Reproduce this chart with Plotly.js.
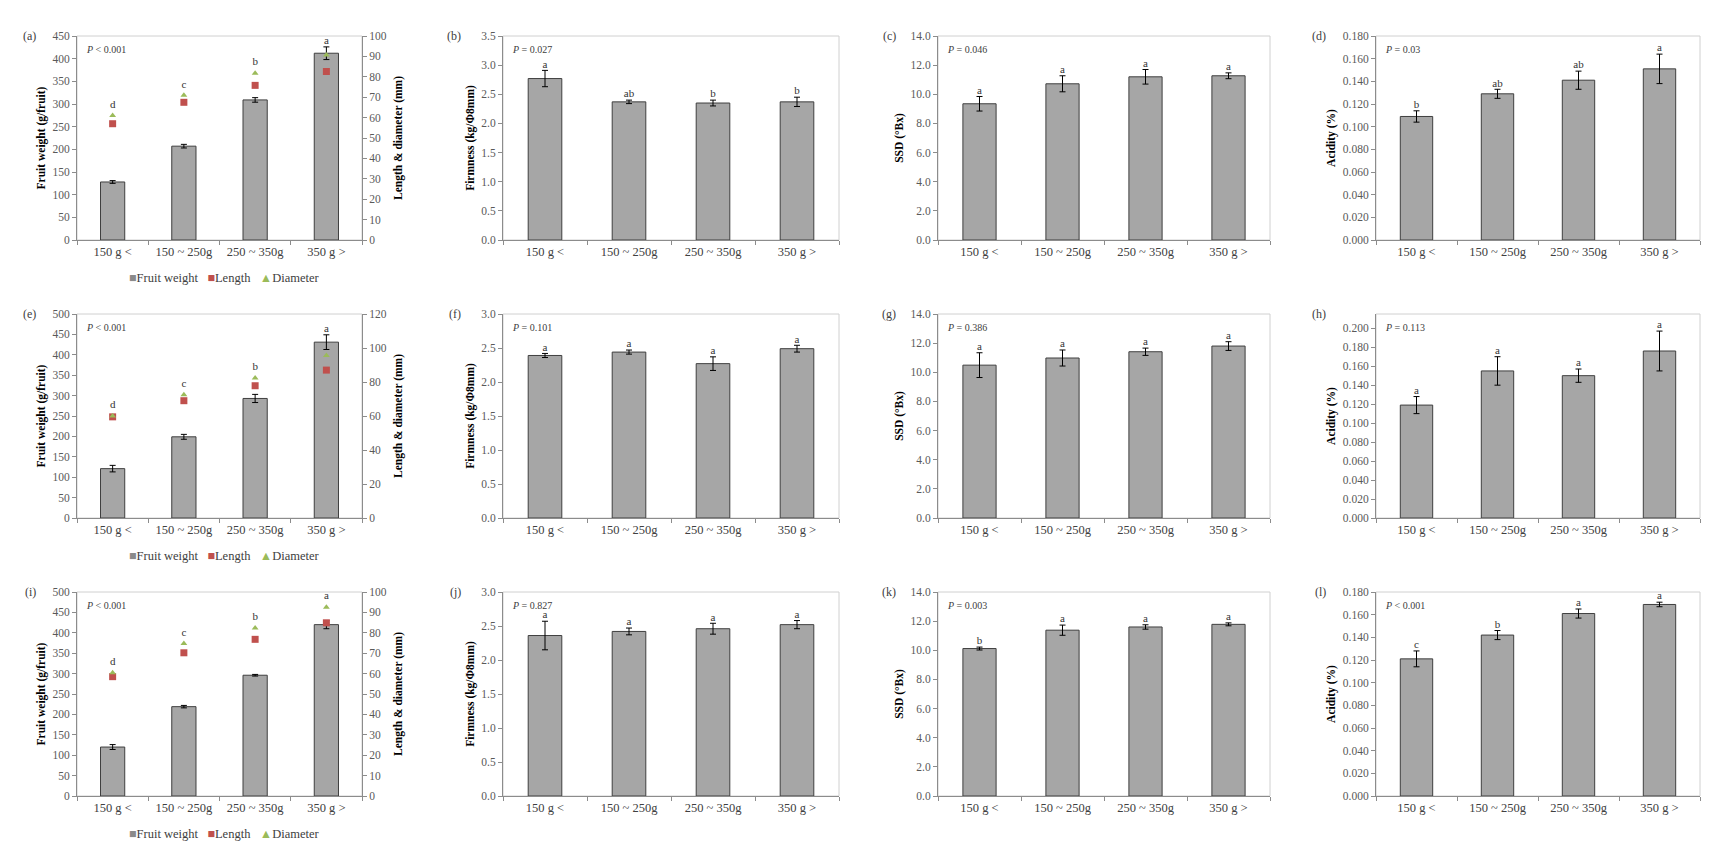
<!DOCTYPE html>
<html><head><meta charset="utf-8">
<script src="https://cdn.plot.ly/plotly-3.0.1.min.js"></script>
<style>html,body{margin:0;padding:0;background:#fff}#chart{width:1736px;height:846px}</style>
</head><body><div id="chart"></div>
<script>
const categories = ['150 g <', '150 ~ 250g', '250 ~ 350g', '350 g >'];

// Row 1
const weightA = [128, 207, 309, 412];
const weightErrA = [3, 4, 5, 14];
const lengthA = [57.0, 67.5, 75.8, 82.6];
const diameterA = [61.0, 70.9, 81.8, 90.7];
const lettersA = ['d', 'c', 'b', 'a'];
const firmB = [2.77, 2.37, 2.35, 2.37];
const firmErrB = [0.14, 0.03, 0.05, 0.08];
const lettersB = ['a', 'ab', 'b', 'b'];
const ssdC = [9.35, 10.72, 11.20, 11.27];
const ssdErrC = [0.50, 0.55, 0.50, 0.20];
const lettersC = ['a', 'a', 'a', 'a'];
const acidD = [0.109, 0.129, 0.141, 0.151];
const acidErrD = [0.005, 0.004, 0.008, 0.013];
const lettersD = ['b', 'ab', 'ab', 'a'];

// Row 2
const weightE = [121, 199, 293, 431];
const weightErrE = [8, 6, 10, 18];
const lengthE = [59.5, 69.0, 77.8, 87.0];
const diameterE = [60.0, 72.5, 82.4, 95.6];
const lettersE = ['d', 'c', 'b', 'a'];
const firmF = [2.39, 2.44, 2.27, 2.49];
const firmErrF = [0.03, 0.03, 0.10, 0.05];
const lettersF = ['a', 'a', 'a', 'a'];
const ssdG = [10.49, 10.98, 11.41, 11.80];
const ssdErrG = [0.85, 0.55, 0.25, 0.30];
const lettersG = ['a', 'a', 'a', 'a'];
const acidH = [0.119, 0.155, 0.150, 0.176];
const acidErrH = [0.009, 0.015, 0.007, 0.021];
const lettersH = ['a', 'a', 'a', 'a'];

// Row 3
const weightI = [120, 219, 296, 420];
const weightErrI = [6, 3, 2, 10];
const lengthI = [58.5, 70.2, 76.8, 84.9];
const diameterI = [60.4, 74.7, 82.4, 92.5];
const lettersI = ['d', 'c', 'b', 'a'];
const firmJ = [2.36, 2.42, 2.46, 2.52];
const firmErrJ = [0.21, 0.05, 0.08, 0.06];
const lettersJ = ['a', 'a', 'a', 'a'];
const ssdK = [10.12, 11.38, 11.60, 11.78];
const ssdErrK = [0.10, 0.35, 0.15, 0.10];
const lettersK = ['b', 'a', 'a', 'a'];
const acidL = [0.121, 0.142, 0.161, 0.169];
const acidErrL = [0.007, 0.004, 0.004, 0.002];
const lettersL = ['c', 'b', 'a', 'a'];

const panelLabels = ['(a)','(b)','(c)','(d)','(e)','(f)','(g)','(h)','(i)','(j)','(k)','(l)'];
const pTexts = ['< 0.001','= 0.027','= 0.046','= 0.03','< 0.001','= 0.101','= 0.386','= 0.113','< 0.001','= 0.827','= 0.003','< 0.001'];
const seriesNames = ['Fruit weight', 'Length', 'Diameter'];

const W = 1736, H = 846;
const px = v => v / W;
const py = v => 1 - v / H;
const colPx = [[77, 362], [503, 839], [938, 1270], [1376, 1700]];
const rowPx = [[36, 240], [314, 518], [592, 796]];
const labelRight = [38, 463, 898, 1328];

const FONT = 'Liberation Serif, Times New Roman, serif';
const BAR_FILL = '#A6A6A6', BAR_LINE = '#3f3f3f';
const LEN_COLOR = '#C0504D', DIA_COLOR = '#9BBB59';

const panels = [
  {type:'w', v:weightA, e:weightErrA, len:lengthA, dia:diameterA, L:lettersA, r:[0,450], dt:50, r2:[0,100], dt2:10},
  {type:'f', v:firmB, e:firmErrB, L:lettersB, r:[0,3.5], dt:0.5, fmt:'.1f'},
  {type:'s', v:ssdC, e:ssdErrC, L:lettersC, r:[0,14], dt:2, fmt:'.1f'},
  {type:'a', v:acidD, e:acidErrD, L:lettersD, r:[0,0.18], dt:0.02, fmt:'.3f'},
  {type:'w', v:weightE, e:weightErrE, len:lengthE, dia:diameterE, L:lettersE, r:[0,500], dt:50, r2:[0,120], dt2:20},
  {type:'f', v:firmF, e:firmErrF, L:lettersF, r:[0,3.0], dt:0.5, fmt:'.1f'},
  {type:'s', v:ssdG, e:ssdErrG, L:lettersG, r:[0,14], dt:2, fmt:'.1f'},
  {type:'a', v:acidH, e:acidErrH, L:lettersH, r:[0,0.215], dt:0.02, fmt:'.3f'},
  {type:'w', v:weightI, e:weightErrI, len:lengthI, dia:diameterI, L:lettersI, r:[0,500], dt:50, r2:[0,100], dt2:10},
  {type:'f', v:firmJ, e:firmErrJ, L:lettersJ, r:[0,3.0], dt:0.5, fmt:'.1f'},
  {type:'s', v:ssdK, e:ssdErrK, L:lettersK, r:[0,14], dt:2, fmt:'.1f'},
  {type:'a', v:acidL, e:acidErrL, L:lettersL, r:[0,0.18], dt:0.02, fmt:'.3f'}
];

const titles = {
  w: 'Fruit weight (g/fruit)',
  f: 'Firmness (kg/Φ8mm)',
  s: 'SSD (°Bx)',
  a: 'Acidity (%)'
};

const data = [];
const layout = {
  width: W, height: H,
  margin: {l:0, r:0, t:0, b:0},
  paper_bgcolor: '#fff', plot_bgcolor: '#fff',
  font: {family: FONT, color: '#404040'},
  showlegend: false,
  annotations: [], shapes: []
};

panels.forEach((p, i) => {
  const row = Math.floor(i / 4), col = i % 4;
  const n = i + 1;
  const xa = 'x' + n, ya = 'y' + n;
  const xd = [px(colPx[col][0]), px(colPx[col][1])];
  const yd = [py(rowPx[row][1]), py(rowPx[row][0])];
  layout['xaxis' + n] = {
    domain: xd, anchor: ya, type: 'category',
    showline: true, linecolor: '#8c8c8c', linewidth: 1,
    ticks: 'outside', tickson: 'boundaries', ticklen: 4, tickcolor: '#8c8c8c',
    tickfont: {family: FONT, size: 12.5, color: '#404040'},
    showgrid: false, zeroline: false, fixedrange: true
  };
  layout['yaxis' + n] = {
    domain: yd, anchor: xa, range: p.r, dtick: p.dt, tick0: 0,
    tickformat: p.fmt || 'd',
    showline: true, linecolor: '#8c8c8c', linewidth: 1,
    ticks: 'outside', ticklen: 4, tickcolor: '#8c8c8c',
    tickfont: {family: FONT, size: 11.5, color: '#595959'},
    showgrid: false, zeroline: false, fixedrange: true,
    title: {text: '<b>' + titles[p.type] + '</b>', font: {family: FONT, size: 11.5, color: '#000'}, standoff: 4}
  };
  layout.shapes.push({type:'rect', xref:'paper', yref:'paper',
    x0: xd[0], x1: xd[1], y0: yd[0], y1: yd[1],
    line: {color:'#d0d0d0', width:1}, layer:'below'});

  const isW = p.type === 'w';
  data.push({
    type: 'bar', x: categories, y: p.v, xaxis: xa, yaxis: ya,
    width: isW ? 0.34 : 0.40,
    marker: {color: BAR_FILL, line: {color: BAR_LINE, width: 1}},
    error_y: {type:'data', array: p.e, visible: true, color:'#000', thickness: 1, width: 3},
    name: seriesNames[0], hoverinfo: 'skip'
  });

  let letterY = p.v.map((v, k) => v + p.e[k]);
  if (isW) {
    const y2n = 13 + row;
    const y2 = 'y' + y2n;
    layout['yaxis' + y2n] = {
      overlaying: ya, anchor: xa, side: 'right', range: p.r2, dtick: p.dt2, tick0: 0,
      showline: true, linecolor: '#8c8c8c', linewidth: 1,
      ticks: 'outside', ticklen: 4, tickcolor: '#8c8c8c',
      tickfont: {family: FONT, size: 11.5, color: '#595959'},
      showgrid: false, zeroline: false, fixedrange: true,
      title: {text: '<b>Length &amp; diameter (mm)</b>', font: {family: FONT, size: 11.5, color: '#000'}, standoff: 8}
    };
    data.push({
      type: 'scatter', mode: 'markers', x: categories, y: p.len, xaxis: xa, yaxis: y2,
      marker: {symbol: 'square', size: 7, color: LEN_COLOR},
      name: seriesNames[1], hoverinfo: 'skip', cliponaxis: false
    });
    data.push({
      type: 'scatter', mode: 'markers', x: categories, y: p.dia, xaxis: xa, yaxis: y2,
      marker: {symbol: 'triangle-up', size: 6, color: DIA_COLOR},
      name: seriesNames[2], hoverinfo: 'skip', cliponaxis: false
    });
    const ratio = p.r[1] / p.r2[1];
    const pad = 0.025 * p.r[1];
    letterY = letterY.map((v, k) => {
      const d = p.dia[k] * ratio;
      return d > v ? d + pad : v;
    });
    layout.annotations.push({
      xref: 'paper', yref: 'paper',
      x: px(224), y: py(rowPx[row][1] + 38), xanchor: 'center', yanchor: 'middle', showarrow: false,
      text: '<span style="color:#8a8a8a">■</span>' + seriesNames[0] +
            '   <span style="color:' + LEN_COLOR + '">■</span>' + seriesNames[1] +
            '   <span style="color:' + DIA_COLOR + '">▲</span>' + seriesNames[2],
      font: {family: FONT, size: 12.5, color: '#404040'}
    });
  }
  data.push({
    type: 'scatter', mode: 'text', x: categories, y: letterY, xaxis: xa, yaxis: ya,
    text: p.L, textposition: 'top center',
    textfont: {family: FONT, size: 11, color: '#333'},
    hoverinfo: 'skip', cliponaxis: false
  });

  layout.annotations.push({
    xref: 'paper', yref: 'paper', x: px(labelRight[col]), y: py(rowPx[row][0]),
    xanchor: 'right', yanchor: 'middle', showarrow: false,
    text: panelLabels[i], font: {family: FONT, size: 12, color: '#404040'}
  });
  layout.annotations.push({
    xref: 'paper', yref: 'paper', x: px(colPx[col][0] + 7), y: py(rowPx[row][0] + 13),
    xanchor: 'left', yanchor: 'middle', showarrow: false,
    text: '<i>P</i> ' + pTexts[i].replace('<', '&lt;'), font: {family: FONT, size: 10, color: '#404040'}
  });
});

Plotly.newPlot('chart', data, layout, {staticPlot: true, displayModeBar: false});
</script>
</body></html>
